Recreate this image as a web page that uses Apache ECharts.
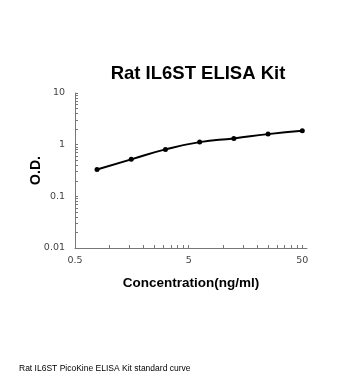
<!DOCTYPE html>
<html><head><meta charset="utf-8">
<script src="https://cdn.jsdelivr.net/npm/echarts@6/dist/echarts.min.js"></script>
<style>html,body{margin:0;padding:0;background:#fff}#c{width:350px;height:380px}</style>
</head><body><div id="c"></div>
<script>
const concentrations = [0.78125, 1.5625, 3.125, 6.25, 12.5, 25, 50];
const odValues = [0.33, 0.52, 0.81, 1.12, 1.32, 1.60, 1.85];
const xTickLabels = [0.5, 5, 50];
const yTickLabels = [0.01, 0.1, 1, 10];
const xTicks = [0.5,1,1.5,2,2.5,3,3.5,4,4.5,5,10,15,20,25,30,35,40,45,50];
const yTicks = [0.01,0.02,0.03,0.04,0.05,0.06,0.07,0.08,0.09,0.1,0.2,0.3,0.4,0.5,0.6,0.7,0.8,0.9,1,2,3,4,5,6,7,8,9,10];

const chart = echarts.init(document.getElementById('c'));
const labelStyle = {fontFamily:'DejaVu Sans', fontSize:9.5, color:'#444'};
chart.setOption({
  animation:false,
  title:[
    {text:'Rat IL6ST ELISA Kit', left:193, top:59, textAlign:'center',
     textStyle:{fontFamily:'Liberation Sans', fontWeight:'bold', fontSize:18.5, color:'#000'}},
    {text:'Rat IL6ST PicoKine ELISA Kit standard curve', left:14, top:359,
     textStyle:{fontFamily:'Liberation Sans', fontWeight:'normal', fontSize:8.5, color:'#000'}}
  ],
  grid:{left:75, top:93, right:43, bottom:132, containLabel:false},
  xAxis:{type:'log', min:0.5, max:55, logBase:10,
    name:'Concentration(ng/ml)', nameLocation:'middle', nameGap:28,
    nameTextStyle:{fontFamily:'Liberation Sans', fontWeight:'bold', fontSize:13.5, color:'#000'},
    axisLine:{lineStyle:{color:'#777', width:1}},
    axisTick:{show:true, inside:true, length:3, customValues:xTicks, lineStyle:{color:'#777'}},
    axisLabel:{customValues:xTickLabels, margin:8, ...labelStyle, formatter:v=>String(v)},
    splitLine:{show:false}, minorTick:{show:false}},
  yAxis:{type:'log', min:0.01, max:10, logBase:10,
    name:'O.D.', nameLocation:'middle', nameGap:32, nameRotate:90, nameMoveOverlap:false,
    nameTextStyle:{fontFamily:'Liberation Sans', fontWeight:'bold', fontSize:14, color:'#000'},
    axisLine:{show:true, lineStyle:{color:'#777', width:1}},
    axisTick:{show:true, inside:true, length:3, customValues:yTicks, lineStyle:{color:'#777'}},
    axisLabel:{customValues:yTickLabels, margin:10, ...labelStyle, formatter:v=>String(v)},
    splitLine:{show:false}},
  series:[{type:'line', data:concentrations.map((c,i)=>[c, odValues[i]]),
    smooth:0.5, symbol:'circle', symbolSize:5,
    lineStyle:{color:'#000', width:2}, itemStyle:{color:'#000'}}]
});
</script></body></html>
